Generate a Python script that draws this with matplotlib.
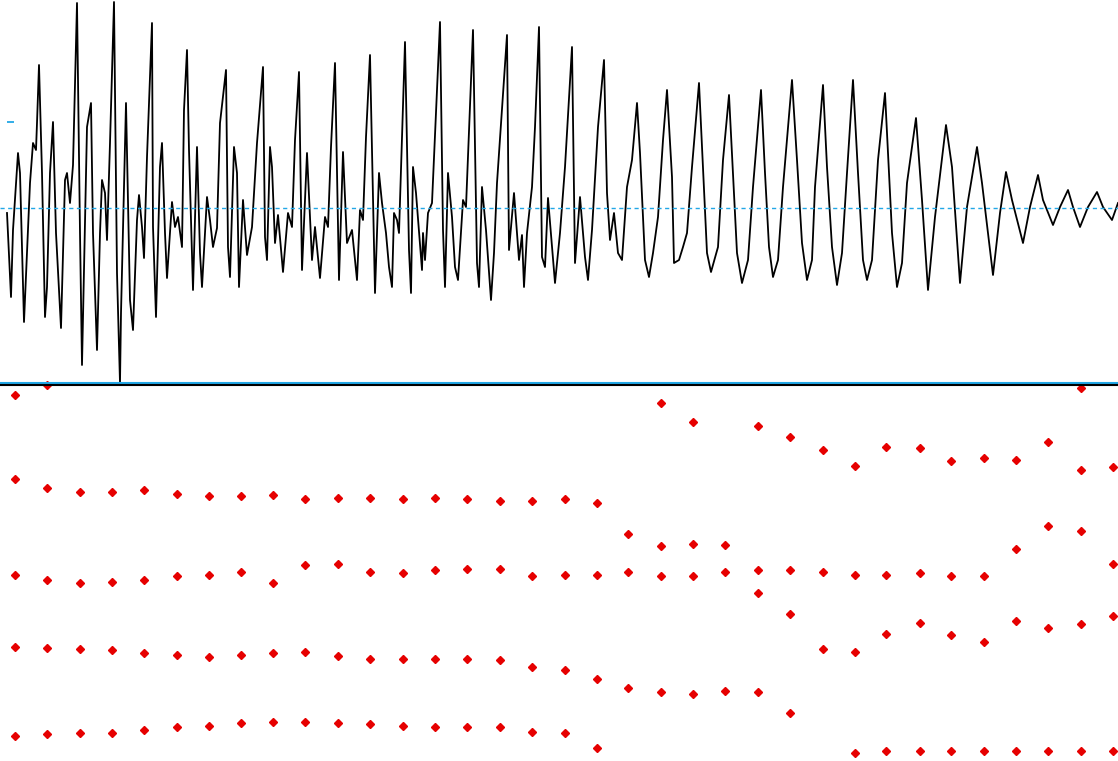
import numpy as np
import matplotlib
matplotlib.use("Agg")
import matplotlib.pyplot as plt
from matplotlib.lines import Line2D

# Waveform vertices: time (ms) and amplitude (arbitrary units)
wave_t = [1.4, 2.2, 2.6, 3.6, 4.0, 4.8, 6.0, 6.6, 7.2, 7.4, 7.8, 8.4, 9.0, 9.4, 10.0, 10.6,
          11.2, 12.2, 13.0, 13.4, 14.0, 14.6, 15.4, 16.0, 16.4, 17.4, 18.2, 18.6, 19.4, 20.0,
          20.4, 21.0, 21.4, 22.0, 22.8, 23.4, 24.0, 24.2, 25.2, 26.0, 26.6, 27.4, 27.8, 28.4,
          28.8, 29.4, 30.4, 30.6, 31.2, 32.0, 32.4, 33.0, 33.4, 34.4, 35.0, 35.6, 36.4, 36.8,
          37.4, 37.8, 38.6, 39.4, 40.0, 40.4, 41.4, 42.0, 42.6, 43.4, 44.0, 45.2, 45.6, 46.0,
          46.8, 47.4, 47.8, 48.6, 49.4, 50.4, 51.4, 52.6, 53.0, 53.4, 54.0, 54.4, 55.0, 55.6,
          56.6, 57.6, 58.4, 59.0, 59.8, 60.4, 61.4, 62.4, 63.0, 64.0, 65.0, 65.6, 66.2, 67.0,
          67.8, 68.6, 69.4, 70.4, 71.4, 72.0, 72.6, 73.2, 74.0, 75.0, 75.8, 76.4, 77.2, 77.8,
          78.4, 78.8, 79.4, 79.8, 81.0, 81.8, 82.2, 82.6, 83.2, 84.4, 84.6, 85.0, 85.6, 86.4,
          88.0, 88.6, 89.0, 89.6, 90.4, 91.0, 91.6, 92.6, 93.2, 94.6, 95.4, 95.8, 96.4, 97.2,
          98.2, 98.8, 99.4, 101.4, 101.8, 102.8, 103.8, 104.4, 104.8, 105.4, 106.4, 107.0,
          107.8, 108.4, 109.0, 109.6, 110.4, 111.0, 112.0, 113.0, 114.4, 115.0, 116.0, 117.0,
          117.6, 118.4, 119.6, 120.8, 121.4, 122.0, 122.8, 123.6, 124.4, 125.4, 126.4, 127.4,
          128.0, 129.0, 129.8, 130.6, 131.6, 132.6, 133.4, 134.4, 134.8, 135.8, 136.6, 137.4,
          138.4, 139.8, 140.6, 141.4, 142.2, 143.6, 144.6, 145.8, 146.6, 147.4, 148.4, 149.6,
          150.6, 152.2, 153.0, 153.8, 154.6, 155.6, 156.6, 158.4, 159.4, 160.4, 161.4, 162.4,
          163.0, 164.6, 165.4, 166.4, 167.4, 168.4, 169.4, 170.6, 171.6, 172.6, 173.4, 174.4,
          175.6, 177.0, 178.4, 179.4, 180.4, 181.4, 183.2, 184.4, 185.6, 187.0, 189.2, 190.4,
          192.0, 193.4, 195.4, 196.4, 198.6, 200.0, 201.2, 202.4, 204.6, 206.0, 207.6, 208.6,
          210.6, 212.0, 213.6, 214.6, 216.0, 217.6, 219.4, 220.6, 222.4, 223.6]
wave_a = [-5, -89, -22, 55, 35, -114, 25, 65, 58, 85, 143, 35, -109, -79, 35, 86,
          -25, -120, 28, 35, 5, 43, 205, -25, -157, 81, 105, -25, -142, -25,
          28, 15, -32, 65, 206, -65, -175, -105, 105, -92, -122, -12, 13, -19,
          -50, 51, 185, -19, -109, 41, 65, -25, -70, 6, -19, -9, -39, 98,
          158, 58, -82, 61, -45, -79, 11, -12, -39, -20, 85, 138, -39, -69,
          61, 35, -79, 8, -47, -19, 65, 141, -29, -52, 61, 41, -35, -7,
          -64, -5, -19, 68, 136, -62, 55, -52, -19, -70, -9, -19, 61, 145,
          -72, 56, -35, -22, -72, -2, -12, 71, 153, -85, 35, 5, -25, -59,
          -79, -5, -12, -25, 166, -42, -85, 41, 15, -62, -25, -52, -5, 5,
          186, -22, -79, 35, -9, -59, -72, 8, 1, 178, -55, -79, 21, -22,
          -92, -45, 25, 173, -42, 15, -52, -27, -79, -25, 21, 81,
          181, -49, -59, 10, -39, -75, -25, 41, 161, -55, 11, -49,
          -72, -22, 81, 148, 15, -32, -5, -45, -52, 21, 48, 105,
          55, -52, -69, -45, -9, 68, 118, 31, -55, -52, -39, -25,
          41, 125, 41, -45, -64, -39, 48, 113, 35, -45, -75, -52,
          21, 118, 35, -39, -69, -52, 21, 128, 48, -35, -72, -52,
          21, 123, 41, -39, -77, -45, 35, 128, 35, -52, -72, -52,
          48, 115, -25, -79, -55, 25, 90, 8, -82, -9, 83, 41,
          -75, 1, 61, 25, -67, -5, 36, 8, -35, 1, 33, 8,
          -17, 1, 18, 1, -19, 1, 16, 1, -12, 5]
level_mark = 86

# Formant frames: time (ms) and frequencies (Hz), lowest first; nan = no point
frame_t = [3.0, 9.4, 16.0, 22.4, 28.8, 35.4, 41.8, 48.2, 54.6, 61.0, 67.6, 74.0,
           80.6, 87.0, 93.4, 100.0, 106.4, 113.0, 119.4, 125.6, 132.2, 138.6, 145.0,
           151.6, 158.0, 164.6, 171.0, 177.2, 184.0, 190.2, 196.8, 203.2, 209.6,
           216.2, 222.6]
nan = np.nan
f1 = [370, 390, 410, 410, 450, 490, 510, 550, 570, 570, 550, 540, 510, 490, 490, 490,
      430, 410, 190, 1070, 1000, 980, 1020, 1000, 700, 1630, 110, 140, 140, 140, 140,
      140, 140, 140, 140]
f2 = [1670, 1650, 1630, 1620, 1570, 1550, 1510, 1550, 1570, 1590, 1530, 1490, 1490,
      1490, 1490, 1470, 1370, 1330, 1190, 2760, 2700, 2700, 2760, 2450, 2150, 2760,
      1590, 1860, 2020, 1840, 1740, 2040, 1940, 2000, 2110]
f3 = [2720, 2640, 2590, 2610, 2640, 2700, 2720, 2760, 2590, 2860, 2880, 2760, 2740,
      2780, 2800, 2800, 2700, 2720, 2720, 3310, 3130, 3170, 3150, 2780, 2780, 4540,
      2720, 2720, 2740, 2700, 2700, 3100, 3430, 3350, 2880]
f4 = [4110, 3980, 3920, 3920, 3960, 3900, 3860, 3860, 3880, 3820, 3840, 3840, 3820,
      3840, 3820, 3800, 3800, 3820, 3760, nan, 5230, 4950, nan, 4880, 4720, nan,
      4310, 4580, 4560, 4370, 4420, 4390, 4660, 4250, 4290]
f5 = [5340, 5490] + [nan] * 31 + [5440, nan]

t_max = 223.6
amp_lo, amp_hi = -175, 208
f_max = 5500

blue = "#22a7e6"
red = "#e60000"

fig = plt.figure(figsize=(11.18, 7.61), dpi=100)

# waveform panel
ax_w = fig.add_axes([0, 1 - 383 / 761, 1, 383 / 761])
ax_w.plot(wave_t, wave_a, color="black", lw=1.3)
ax_w.axhline(0, color=blue, lw=1, linestyle=(0, (3, 2.5)))
ax_w.hlines(level_mark, 1.4, 2.8, color=blue, lw=1.3)
ax_w.set_xlim(0, t_max)
ax_w.set_ylim(amp_lo, amp_hi)
ax_w.set_axis_off()

# formant panel
ax_f = fig.add_axes([0, 0, 1, 377 / 761])
for track in (f1, f2, f3, f4, f5):
    ax_f.plot(frame_t, track, linestyle="none", marker="D", ms=3.6,
              color=red, clip_on=False, zorder=3)
ax_f.set_xlim(0, t_max)
ax_f.set_ylim(0, f_max)
ax_f.set_axis_off()

# separator between the two panels
fig.add_artist(Line2D([0, 1], [1 - 382.5 / 761] * 2, transform=fig.transFigure,
                      color=blue, lw=1.5, zorder=1))
fig.add_artist(Line2D([0, 1], [1 - 384.5 / 761] * 2, transform=fig.transFigure,
                      color="black", lw=1.5, zorder=1))

fig.savefig("out.png", dpi=100)
